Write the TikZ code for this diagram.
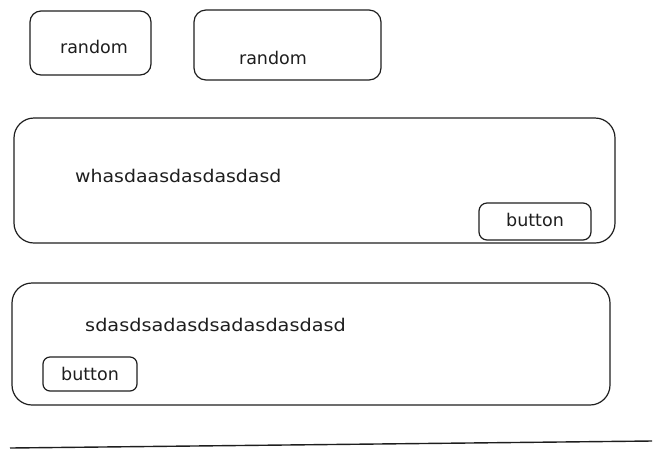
\documentclass[tikz,border=0pt]{standalone}
\usepackage{fontspec}
\setmainfont{DejaVu Sans}
\definecolor{ink}{HTML}{1E1E1E}
\begin{document}
\begin{tikzpicture}[x=1pt,y=-1pt,
  sketchbox/.style={draw=ink,line width=1.2pt,rounded corners=#1,inner sep=0pt},
  sketchbox/.default=10pt,
  label/.style={text=ink,inner sep=0pt,font=\fontsize{17.5}{20}\selectfont}]
\useasboundingbox (0,0) rectangle (661,459);
% top small boxes
\node[sketchbox=11pt,minimum width=121pt,minimum height=64pt] (r1) at (90.5,43) {};
\node[label] (r1t) at (94,47) {random};
\node[sketchbox=12pt,minimum width=187pt,minimum height=70pt] (r2) at (287.5,45) {};
\node[label] (r2t) at (273,58) {random};
% first panel
\node[sketchbox=20pt,minimum width=601pt,minimum height=125pt] (p1) at (314.5,180.5) {};
\node[label,anchor=west,xscale=1.08] (p1t) at (75,176) {whasdaasdasdasdasd};
\node[sketchbox=8pt,minimum width=112pt,minimum height=37pt] (b1) at (535,221.5) {};
\node[label] (b1t) at (535,220) {button};
% second panel
\node[sketchbox=20pt,minimum width=598pt,minimum height=122pt] (p2) at (311,344) {};
\node[label,anchor=west,xscale=1.1] (p2t) at (85,325) {sdasdsadasdsadasdasdasd};
\node[sketchbox=7pt,minimum width=94pt,minimum height=34pt] (b2) at (90,374) {};
\node[label] (b2t) at (90,374) {button};
% bottom line
\coordinate (l1) at (10,448);
\coordinate (l2) at (652,441);
\draw[ink,line width=1.4pt] (l1) -- (l2);
\end{tikzpicture}
\end{document}
